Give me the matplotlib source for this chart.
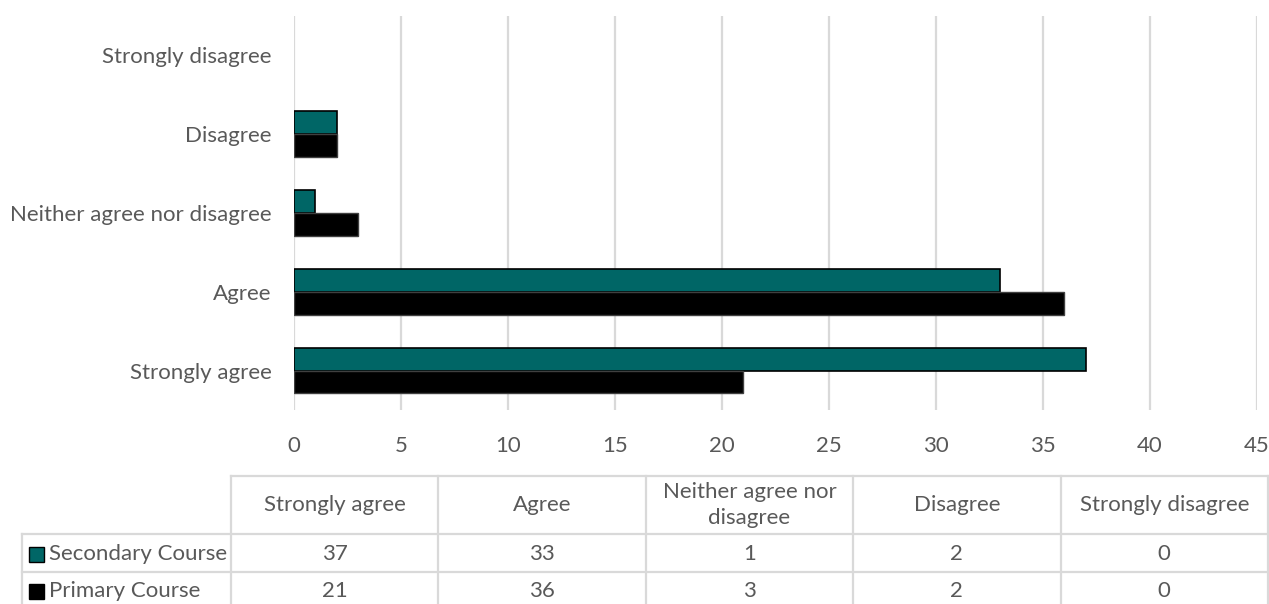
import matplotlib
matplotlib.use("Agg")
import matplotlib.pyplot as plt
from matplotlib.patches import Rectangle
from matplotlib.lines import Line2D
import numpy as np

categories = ["Strongly agree", "Agree", "Neither agree nor disagree", "Disagree", "Strongly disagree"]
table_headers = ["Strongly agree", "Agree", "Neither agree nor\ndisagree", "Disagree", "Strongly disagree"]
secondary = [37, 33, 1, 2, 0]
primary = [21, 36, 3, 2, 0]
series_names = ["Secondary Course", "Primary Course"]
x_ticks = [0, 5, 10, 15, 20, 25, 30, 35, 40, 45]

TEAL = "#006666"
BLACK = "#000000"
TXT = "#595959"
GRID = "#d9d9d9"
FS = 16

plt.rcParams['font.family'] = ['Lato', 'DejaVu Sans']

W, H = 1269, 604
fig = plt.figure(figsize=(W / 100, H / 100), dpi=100)

def fx(px):
    return px / W

def fy(py):
    return 1 - py / H

ax = fig.add_axes([fx(294), fy(410), fx(1257) - fx(294), fy(16) - fy(410)])
y = np.arange(len(categories))
h = 0.29
ax.barh(y + h / 2, secondary, height=h, color=TEAL, edgecolor="black",
        linewidth=[1.2 if v > 0 else 0 for v in secondary], zorder=3)
ax.barh(y - h / 2, primary, height=h, color=BLACK, edgecolor="#404040",
        linewidth=[1.0 if v > 0 else 0 for v in primary], zorder=3)
ax.set_xlim(0, 45)
ax.set_ylim(-0.5, len(categories) - 0.5)
ax.set_xticks(x_ticks)
ax.set_xticklabels([str(t) for t in x_ticks], fontsize=FS, color=TXT)
ax.set_yticks(y)
ax.set_yticklabels(categories, fontsize=FS, color=TXT)
ax.tick_params(axis='both', length=0)
ax.tick_params(axis='x', pad=19)
ax.tick_params(axis='y', pad=16)
ax.grid(axis='x', color=GRID, linewidth=1.6, zorder=0)
for s in ax.spines.values():
    s.set_visible(False)

# Data table
col_edges = np.linspace(231, 1268, len(categories) + 1)
row_edges = [476, 534, 572, 610]
lw = 1.6

def hline(x0, x1, yy):
    fig.add_artist(Line2D([fx(x0), fx(x1)], [fy(yy), fy(yy)], color=GRID, lw=lw, transform=fig.transFigure))

def vline(xx, y0, y1):
    fig.add_artist(Line2D([fx(xx), fx(xx)], [fy(y0), fy(y1)], color=GRID, lw=lw, transform=fig.transFigure))

hline(231, 1268, row_edges[0])
hline(22, 1268, row_edges[1])
hline(22, 1268, row_edges[2])
for xx in col_edges:
    vline(xx, row_edges[0], row_edges[3])
vline(22, row_edges[1], row_edges[3])

for i, lab in enumerate(table_headers):
    cx = (col_edges[i] + col_edges[i + 1]) / 2
    cy = (row_edges[0] + row_edges[1]) / 2
    fig.text(fx(cx), fy(cy), lab, ha='center', va='center', fontsize=FS, color=TXT, linespacing=1.35)

rows = [secondary, primary]
colors = [TEAL, BLACK]
row_centers = [554, 591]
for vals, name, col, cy in zip(rows, series_names, colors, row_centers):
    fig.add_artist(Rectangle((fx(29), fy(cy + 7.5)), fx(15), fy(0) - fy(15), facecolor=col,
                             edgecolor="black", lw=1.0, transform=fig.transFigure))
    fig.text(fx(49), fy(cy), name, ha='left', va='center', fontsize=FS, color=TXT)
    for i, v in enumerate(vals):
        cx = (col_edges[i] + col_edges[i + 1]) / 2
        fig.text(fx(cx), fy(cy), str(v), ha='center', va='center', fontsize=FS, color=TXT)

fig.savefig("out.png", dpi=100, facecolor="white")
